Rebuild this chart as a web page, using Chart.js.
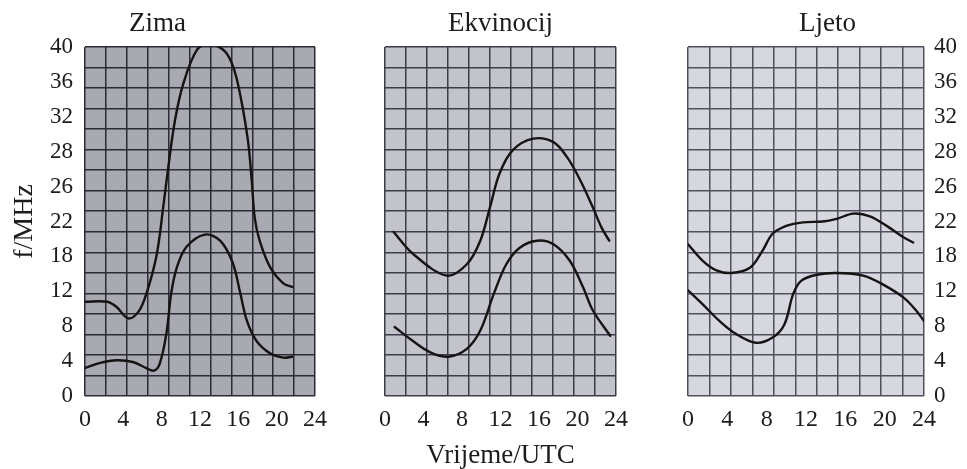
<!DOCTYPE html>
<html><head><meta charset="utf-8">
<script src="https://cdn.jsdelivr.net/npm/chart.js@4.4.1/dist/chart.umd.min.js"></script>
<style>
html,body{margin:0;padding:0;background:#fff;}
#wrap{position:relative;width:967px;height:469px;overflow:hidden;background:#fff;}
canvas{position:absolute;top:0;}
</style></head><body>
<div id="wrap">
<canvas id="c1" width="340" height="469" style="left:0px"></canvas>
<canvas id="c2" width="300" height="469" style="left:340px"></canvas>
<canvas id="c3" width="327" height="469" style="left:640px"></canvas>
</div>
<script>
// ---- data (hours UTC, frequency in axis units) ----
const panelTitles = ['Zima', 'Ekvinocij', 'Ljeto'];
const xTickLabels = ['0', '4', '8', '12', '16', '20', '24'];
const yTickLabels = ['0', '4', '8', '12', '18', '22', '26', '28', '32', '36', '40'];

const zimaUpperHours = [0, 2.3, 3.3, 4.5, 5.6, 6.43, 7.48, 8.17, 8.7, 9.39, 10.26, 11.7, 13.0, 14.6, 15.5, 16.2, 17.0, 17.4, 17.7, 18.2, 19.3, 20.7, 21.6];
const zimaUpperMHz   = [10.8, 10.8, 10.2, 8.9, 9.7, 11.8, 16.2, 21.7, 26.3, 31.6, 35.8, 39.7, 40.3, 39.5, 37.6, 34.5, 29.3, 24.7, 20.5, 17.9, 14.8, 12.9, 12.5];
const zimaLowerHours = [0, 1.6, 3.3, 5.0, 6.4, 7.2, 7.8, 8.5, 9.0, 9.6, 10.6, 12.5, 14.1, 15.4, 16.2, 16.9, 17.9, 19.3, 20.7, 21.6];
const zimaLowerMHz   = [3.2, 3.8, 4.1, 3.9, 3.2, 2.9, 3.7, 7.2, 11.8, 14.8, 17.1, 18.5, 17.8, 15.3, 11.8, 8.6, 6.3, 4.9, 4.4, 4.5];

const ekvUpperHours = [0.9, 2.9, 6.4, 8.5, 9.9, 10.9, 11.9, 13.3, 15.4, 17.5, 18.9, 20.3, 21.6, 22.5, 23.3];
const ekvUpperMHz   = [18.8, 16.3, 13.8, 15.1, 17.8, 21.6, 25.5, 28.2, 29.5, 29.1, 27.4, 24.7, 21.6, 19.3, 17.8];
const ekvLowerHours = [1.0, 2.9, 4.7, 6.6, 8.5, 9.9, 11.3, 12.6, 14.0, 15.8, 17.5, 19.2, 20.6, 21.6, 23.4];
const ekvLowerMHz   = [7.9, 6.3, 5.0, 4.5, 5.4, 7.5, 11.7, 15.1, 17.0, 17.8, 17.4, 15.5, 12.4, 9.8, 6.9];

const ljetoUpperHours = [0, 1.5, 2.9, 4.4, 6.3, 7.6, 8.6, 10.0, 11.7, 13.7, 15.1, 16.8, 18.5, 20.2, 21.9, 22.9];
const ljetoUpperMHz   = [17.4, 15.5, 14.4, 14.1, 14.7, 16.7, 18.6, 19.5, 19.9, 20.0, 20.3, 20.9, 20.6, 19.5, 18.2, 17.6];
const ljetoLowerHours = [0, 1.5, 3.2, 4.9, 6.9, 8.6, 9.8, 10.7, 11.5, 13.1, 15.1, 17.8, 19.8, 21.9, 23.2, 24];
const ljetoLowerMHz   = [12.1, 10.5, 8.6, 7.1, 6.1, 6.7, 8.2, 11.7, 13.2, 13.9, 14.1, 13.8, 12.8, 11.3, 9.8, 8.6];

// ---- helpers ----
const FONT = "'Liberation Serif', 'Times New Roman', serif";
const TXT = '#1c1c1c';
function pts(hs, vs) { return hs.map((h, i) => ({x: h, y: vs[i]})); }
function lineDs(hs, vs) {
  return {data: pts(hs, vs), xAxisID: 'x', yAxisID: 'y', borderColor: '#141414', borderWidth: 2.4, pointRadius: 0,
          tension: 0.35, fill: false, borderCapStyle: 'round', borderJoinStyle: 'round'};
}
const bgPlugin = {
  id: 'panelBg',
  beforeDraw(chart, args, opts) {
    const a = chart.chartArea, ctx = chart.ctx;
    ctx.save(); ctx.fillStyle = opts.color; ctx.fillRect(a.left, a.top, a.right - a.left, a.bottom - a.top); ctx.restore();
  }
};

function makePanel(id, idx, series, cfg) {
  const yMain = {
    type: 'linear', min: 0, max: 40, position: cfg.yPos || 'left', display: cfg.yShow,
    grid: {display: false, drawTicks: false}, border: {display: false},
    ticks: {stepSize: 4, padding: cfg.yPad || 12, color: TXT, font: {family: FONT, size: 23},
            callback: (v, i) => yTickLabels[i]},
    title: {display: !!cfg.yTitle, text: cfg.yTitle || '', color: TXT,
            font: {family: FONT, size: 28, lineHeight: 1}, padding: {top: 11, bottom: 0}},
    afterFit: s => { s.width = cfg.yWidth || 0; }
  };
  const xMain = {
    type: 'linear', min: 0, max: 24, position: 'bottom',
    grid: {display: false, drawTicks: false}, border: {display: false},
    ticks: {stepSize: 4, padding: 9, color: TXT, font: {family: FONT, size: 24},
            callback: (v, i) => xTickLabels[i], maxRotation: 0, autoSkip: false},
    title: {display: !!cfg.xTitle, text: cfg.xTitle || '', color: TXT,
            font: {family: FONT, size: 27, lineHeight: 1}, padding: {top: 0, bottom: 0}},
    afterFit: s => { s.height = 73; }
  };
  const gridX = {
    type: 'linear', min: 0, max: 11, position: 'bottom',
    grid: {color: cfg.gridColor, lineWidth: 1.5, drawTicks: false}, border: {display: false},
    ticks: {display: false, stepSize: 1}, afterFit: s => { s.height = 0; }
  };
  const gridY = {
    type: 'linear', min: 0, max: 17, position: 'left',
    grid: {color: cfg.gridColor, lineWidth: 1.5, drawTicks: false}, border: {display: false},
    ticks: {display: false, stepSize: 1}, afterFit: s => { s.width = 0; }
  };
  return new Chart(document.getElementById(id), {
    type: 'line',
    data: {datasets: series.map(s => lineDs(s[0], s[1]))},
    options: {
      responsive: false, animation: false, events: [],
      layout: {padding: {left: cfg.padL, right: cfg.padR, top: 0, bottom: 0}},
      plugins: {
        legend: {display: false}, tooltip: {enabled: false},
        title: {display: true, text: panelTitles[idx], color: TXT,
                font: {family: FONT, size: 27, weight: 'normal', lineHeight: 1.2},
                padding: {top: 8, bottom: 6.6}},
        panelBg: {color: cfg.bg}
      },
      scales: {x: xMain, y: yMain, gx: gridX, gy: gridY}
    },
    plugins: [bgPlugin]
  });
}

makePanel('c1', 0, [[zimaUpperHours, zimaUpperMHz], [zimaLowerHours, zimaLowerMHz]],
  {yShow: true, yWidth: 85, yPad: 12, yTitle: 'f/MHz', padL: 0, padR: 25, bg: '#a9a9b1', gridColor: '#2b2b36'});
makePanel('c2', 1, [[ekvUpperHours, ekvUpperMHz], [ekvLowerHours, ekvLowerMHz]],
  {yShow: false, padL: 45, padR: 24, xTitle: 'Vrijeme/UTC', bg: '#c3c3cb', gridColor: '#3c3c4a'});
makePanel('c3', 2, [[ljetoUpperHours, ljetoUpperMHz], [ljetoLowerHours, ljetoLowerMHz]],
  {yShow: true, yPos: 'right', yWidth: 43, yPad: 10, padL: 48, padR: 0, bg: '#d6d7df', gridColor: '#50505e'});
</script>
</body></html>
